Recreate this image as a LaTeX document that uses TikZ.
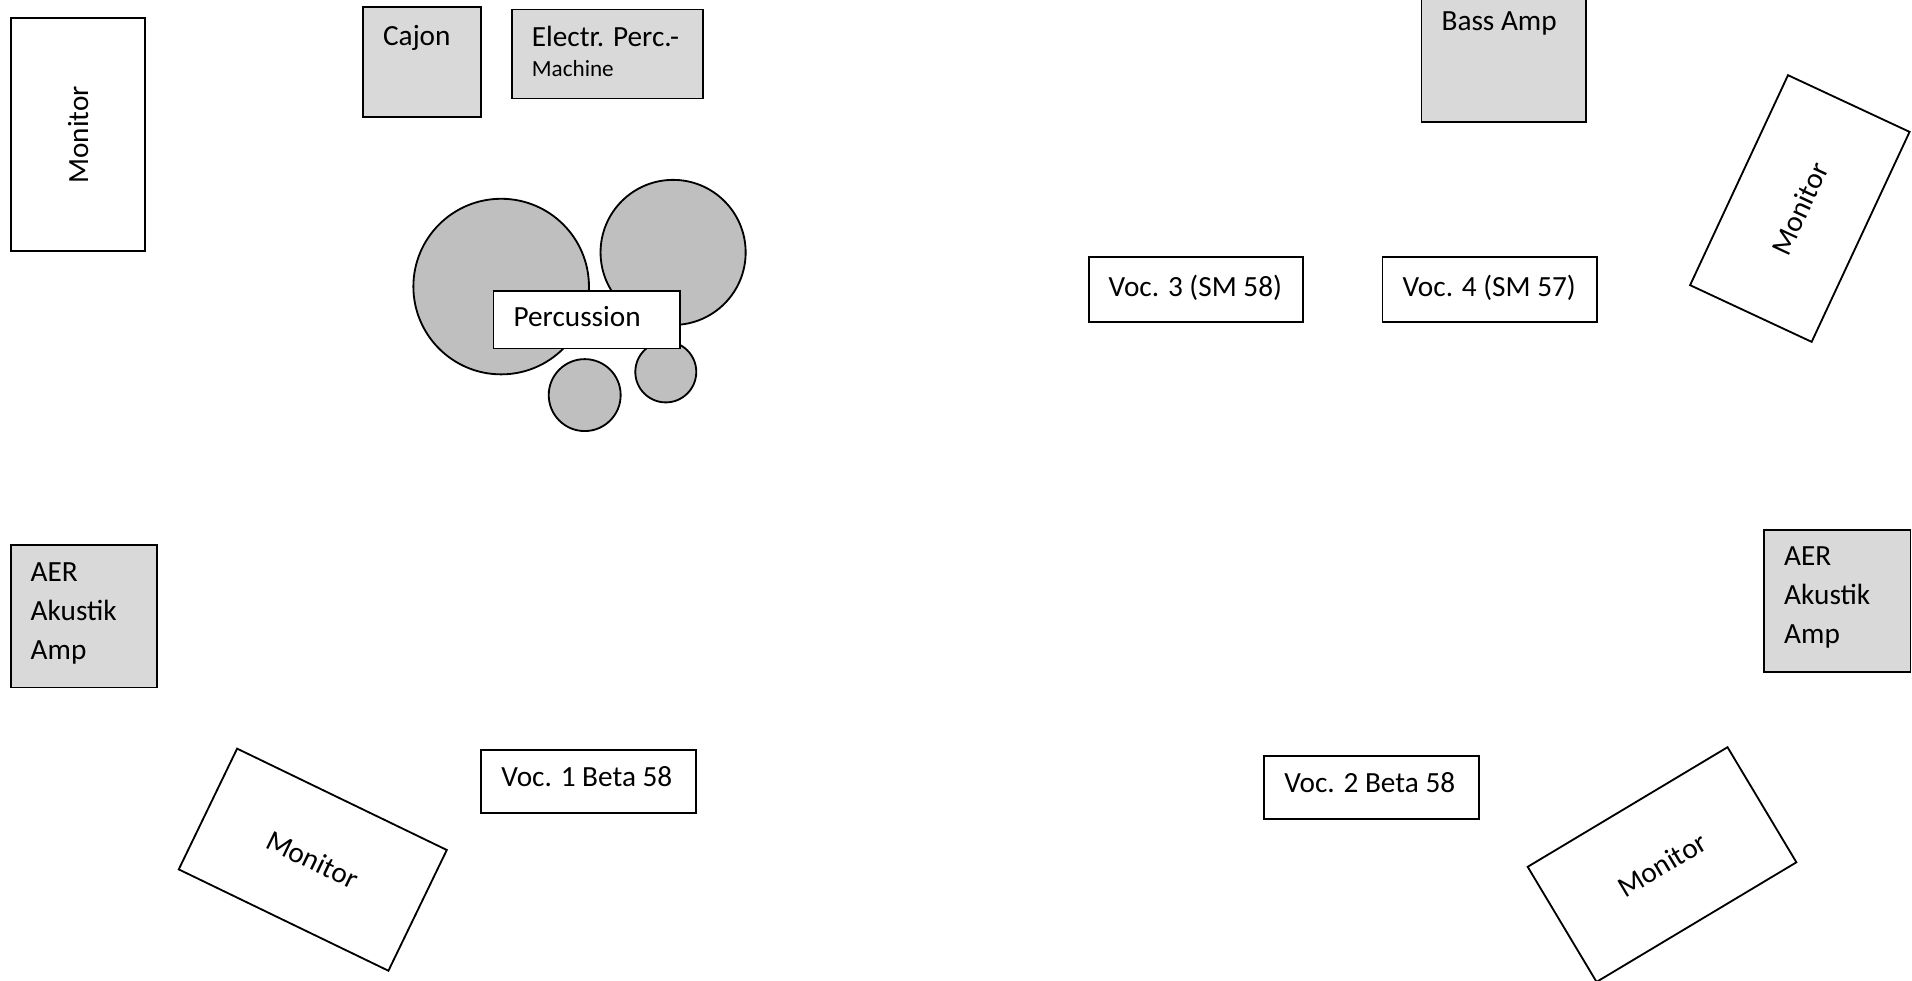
\documentclass[tikz,border=0pt]{standalone}
\usepackage{fontspec}
\setmainfont{Carlito}
\definecolor{boxgray}{HTML}{D9D9D9}
\definecolor{drumgray}{HTML}{BFBFBF}
\tikzset{
  every node/.style={font=\fontsize{24}{32}\selectfont},
  basebox/.style={draw=black, line width=1.5pt, inner sep=0pt, rectangle},
  graybox/.style={basebox, fill=boxgray},
  whitebox/.style={basebox, fill=white},
  drum/.style={draw=black, line width=1.5pt, circle, fill=drumgray, inner sep=0pt},
  lbl/.style={inner sep=0pt, anchor=base west},
}
\begin{document}
\begin{tikzpicture}[x=1pt,y=-1pt]
\useasboundingbox (0,0) rectangle (1568,804);
\clip (0,0) rectangle (1568,804);
\fill[white] (0,0) rectangle (1568,804);

% left monitor
\node[whitebox, minimum width=191pt, minimum height=110pt, rotate=90] (monL) at (64,110.5) {Monitor};

% Cajon
\node[graybox, anchor=north west, minimum width=97pt, minimum height=90pt] (cajon) at (297,5) {};
\node[lbl] (cajonT) at ([shift={(17pt,-32pt)}]cajon.north west) {Cajon};

% Electr. Perc. Machine
\node[graybox, anchor=north west, minimum width=157pt, minimum height=73pt] (elec) at (419,7) {};
\node[lbl] (elecT1) at ([shift={(17pt,-31pt)}]elec.north west) {Electr. Perc.-};
\node[lbl, font=\fontsize{19}{22}\selectfont] (elecT2) at ([shift={(17pt,-56pt)}]elec.north west) {Machine};

% Bass Amp
\node[graybox, anchor=south west, minimum width=135pt, minimum height=110pt] (bass) at (1165,101) {};
\node[lbl] (bassT) at (1182,25) {Bass Amp};

% right top monitor
\node[whitebox, minimum width=190pt, minimum height=110pt, rotate=65] (monR) at (1476,171) {Monitor};

% vocal mics back
\node[whitebox, anchor=north west, minimum width=176pt, minimum height=53pt] (voc3) at (892,210) {};
\node[lbl] (voc3T) at ([shift={(17pt,-33pt)}]voc3.north west) {Voc. 3 (SM 58)};
\node[whitebox, anchor=north west, minimum width=176pt, minimum height=53pt] (voc4) at (1133,210) {};
\node[lbl] (voc4T) at ([shift={(17pt,-33pt)}]voc4.north west) {Voc. 4 (SM 57)};

% percussion
\node[drum, minimum size=144pt] (d1) at (411,235) {};
\node[drum, minimum size=119pt] (d2) at (552,207) {};
\node[drum, minimum size=59pt] (d3) at (479.5,324) {};
\node[drum, minimum size=50pt] (d4) at (546,305) {};
\node[whitebox, anchor=north west, minimum width=153pt, minimum height=47pt] (perc) at (404,238) {};
\node[lbl] (percT) at ([shift={(17pt,-30pt)}]perc.north west) {Percussion};

% AER left
\node[graybox, anchor=north west, minimum width=120pt, minimum height=117pt] (aerL) at (8,446) {};
\node[lbl] (aerL1) at ([shift={(17pt,-31pt)}]aerL.north west) {AER};
\node[lbl] (aerL2) at ([shift={(17pt,-63pt)}]aerL.north west) {Akustik};
\node[lbl] (aerL3) at ([shift={(17pt,-95pt)}]aerL.north west) {Amp};

% AER right
\node[graybox, anchor=north west, minimum width=120pt, minimum height=116pt] (aerR) at (1446,434) {};
\node[lbl] (aerR1) at ([shift={(17pt,-30pt)}]aerR.north west) {AER};
\node[lbl] (aerR2) at ([shift={(17pt,-62pt)}]aerR.north west) {Akustik};
\node[lbl] (aerR3) at ([shift={(17pt,-94pt)}]aerR.north west) {Amp};

% bottom monitors
\node[whitebox, minimum width=191pt, minimum height=110pt, rotate=-25.8] (monBL) at (256.5,705) {Monitor};
\node[whitebox, minimum width=191pt, minimum height=110pt, rotate=30.9] (monBR) at (1363,709) {Monitor};

% vocal mics front
\node[whitebox, anchor=north west, minimum width=176pt, minimum height=52pt] (voc1) at (394,614) {};
\node[lbl] (voc1T) at ([shift={(17pt,-31pt)}]voc1.north west) {Voc. 1 Beta 58};
\node[whitebox, anchor=north west, minimum width=176pt, minimum height=52pt] (voc2) at (1036,619) {};
\node[lbl] (voc2T) at ([shift={(17pt,-31pt)}]voc2.north west) {Voc. 2 Beta 58};
\end{tikzpicture}
\end{document}
